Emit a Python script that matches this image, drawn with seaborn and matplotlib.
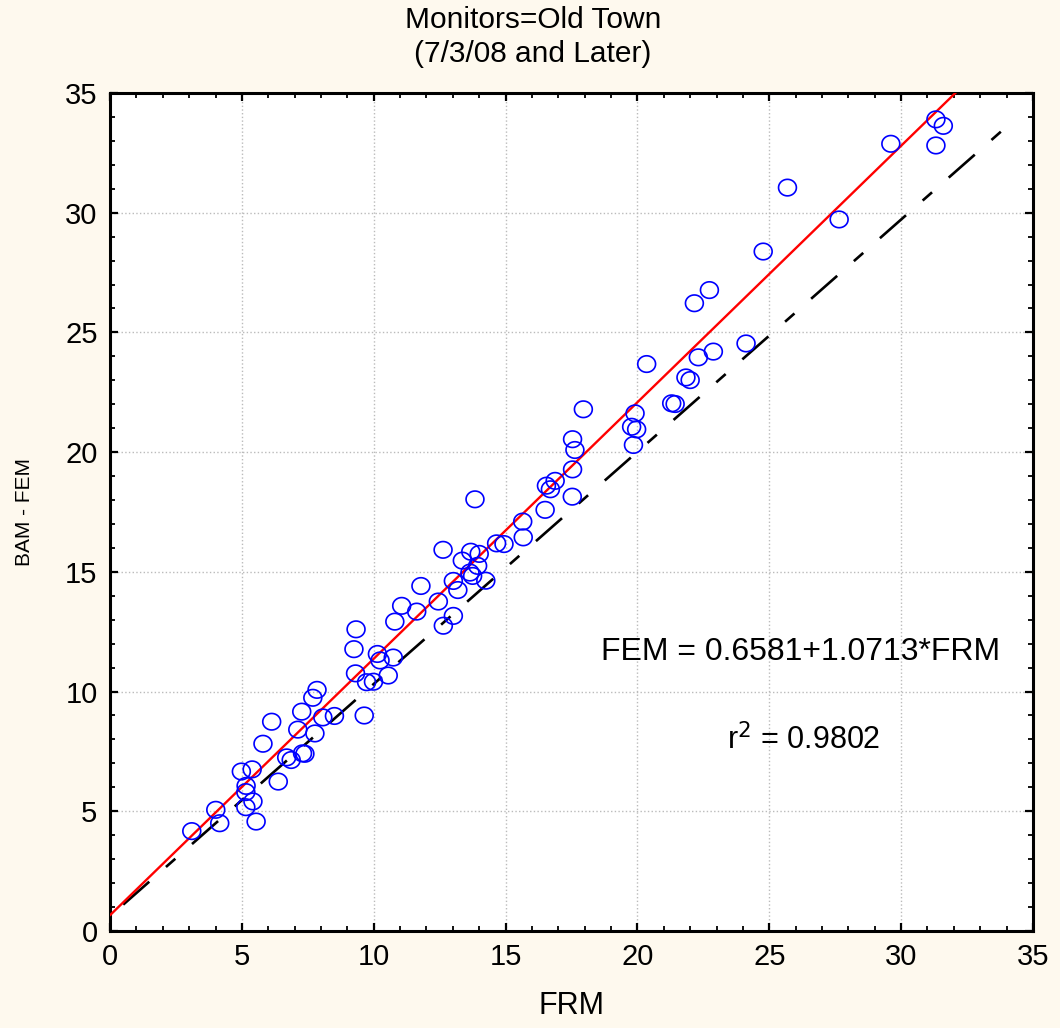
import numpy as np
import pandas as pd
import matplotlib
matplotlib.use("Agg")
import matplotlib.pyplot as plt
from matplotlib.path import Path
import seaborn as sns

# data
frm = [3.10, 4.01, 4.16, 5.54, 5.15, 5.42, 5.15, 5.16, 4.98, 5.39,
       6.38, 5.80, 6.13, 6.70, 6.87, 7.30, 7.39, 7.12, 7.77, 7.27,
       7.69, 7.85, 8.07, 8.51, 9.64, 9.31, 9.73, 9.99, 10.55, 10.24,
       10.74, 10.14, 9.25, 9.33, 10.80, 11.06, 11.63, 11.79, 12.45, 12.63,
       12.64, 13.02, 13.02, 13.19, 13.36, 13.65, 13.68, 14.00, 13.94, 13.75,
       14.25, 14.66, 14.94, 13.84, 15.65, 15.67, 16.50, 16.70, 16.88, 16.55,
       17.53, 17.54, 17.63, 17.54, 17.95, 19.85, 19.97, 19.78, 19.91, 20.35,
       21.30, 21.43, 21.84, 22.00, 22.31, 22.88, 22.16, 22.73, 24.12, 24.77,
       25.69, 27.65, 29.61, 31.32, 31.60, 31.32]
fem = [4.17, 5.06, 4.50, 4.57, 5.17, 5.41, 5.80, 6.06, 6.66, 6.75,
       6.24, 7.82, 8.74, 7.25, 7.14, 7.42, 7.40, 8.41, 8.25, 9.16,
       9.74, 10.07, 8.92, 8.98, 9.00, 10.76, 10.39, 10.41, 10.67, 11.30,
       11.42, 11.57, 11.77, 12.60, 12.92, 13.58, 13.34, 14.41, 13.76, 15.92,
       12.75, 13.16, 14.62, 14.24, 15.47, 14.97, 15.84, 15.75, 15.25, 14.83,
       14.63, 16.19, 16.16, 18.03, 17.10, 16.44, 17.59, 18.45, 18.80, 18.60,
       18.14, 19.28, 20.09, 20.54, 21.79, 20.30, 20.95, 21.06, 21.62, 23.68,
       22.04, 22.01, 23.12, 23.01, 23.96, 24.20, 26.22, 26.77, 24.54, 28.38,
       31.05, 29.72, 32.88, 33.90, 33.63, 32.81]

intercept = 0.6581
slope = 1.0713
fit_x = [0, 35]

ref_x = [0.5, 33.9]
ref_y = [1.1, 33.5]

df = pd.DataFrame({"FRM": frm, "FEM": fem})

sns.set_style("white")
plt.rcParams['font.family'] = ['Liberation Sans', 'DejaVu Sans']
plt.rcParams['lines.scale_dashes'] = False
for k in ['text.color', 'axes.labelcolor', 'xtick.color', 'ytick.color']:
    plt.rcParams[k] = 'black'
bg = '#FEF9EE'

# slightly wide open circle, like the original
t = np.linspace(0, 2 * np.pi, 60)
oval = Path(np.column_stack([1.08 * np.cos(t), np.sin(t)]), closed=True)

fig = plt.figure(figsize=(10.6, 10.28), dpi=100, facecolor=bg)
ax = fig.add_axes([0.1038, 0.0944, 0.8707, 0.8151])
ax.set_facecolor('white')

ax.plot(ref_x, ref_y, color='black', lw=1.9, dashes=(25, 16, 9, 16), zorder=2)
ax.plot(fit_x, [intercept + slope * v for v in fit_x], color='#FF0000', lw=1.7, zorder=3)

sns.scatterplot(data=df, x="FRM", y="FEM", ax=ax, marker=oval, s=165,
                facecolors='none', edgecolor='#0000FF', linewidth=1.2, zorder=4)

ax.set_xlim(0, 35)
ax.set_ylim(0, 35)
ax.set_xticks(range(0, 36, 5))
ax.set_yticks(range(0, 36, 5))
ax.set_xticks(range(0, 36), minor=True)
ax.set_yticks(range(0, 36), minor=True)
ax.grid(True, which='major', linestyle=':', color='#BBBBBB', lw=1.0)
ax.set_axisbelow(True)

ax.tick_params(which='both', direction='in', top=True, right=True,
               bottom=True, left=True, color='black')
ax.tick_params(which='major', length=6, width=1.6, labelsize=21, pad=9)
ax.tick_params(which='minor', length=3.5, width=1.3)
for s in ax.spines.values():
    s.set_visible(True)
    s.set_color('black')
    s.set_linewidth(2.2)

ax.set_xlabel('FRM', fontsize=22, labelpad=14)
ax.set_ylabel('BAM - FEM', fontsize=15, labelpad=22)

fig.text(0.503, 0.981, 'Monitors=Old Town', ha='center', va='center', fontsize=21.5)
fig.text(0.503, 0.947, '(7/3/08 and Later)', ha='center', va='center', fontsize=21.5)

ax.text(26.2, 11.65, 'FEM = 0.6581+1.0713*FRM', ha='center', va='center', fontsize=23)
ax.text(26.3, 7.98, r'r$^2$ = 0.9802', ha='center', va='center', fontsize=22)

fig.savefig('out.png', dpi=100, facecolor=bg)
